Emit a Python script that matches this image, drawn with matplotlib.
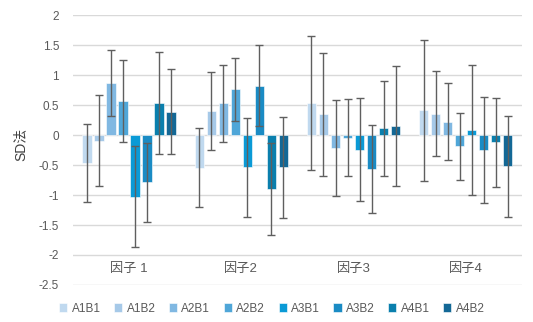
import matplotlib.pyplot as plt
import numpy as np

plt.rcParams['font.family'] = ['Liberation Sans', 'Noto Sans CJK SC', 'DejaVu Sans']

categories = ['因子 1', '因子2', '因子3', '因子4']
series = ['A1B1', 'A1B2', 'A2B1', 'A2B2', 'A3B1', 'A3B2', 'A4B1', 'A4B2']
colors = ['#c0d9ef', '#a6c9e8', '#80b8e2', '#4fa6d8',
          '#0a9ad6', '#1a8bc4', '#0a7fad', '#136896']

# mean values per series, one entry per factor
means = {
    'A1B1': [-0.465, -0.545, 0.53, 0.41],
    'A1B2': [-0.095, 0.40, 0.345, 0.355],
    'A2B1': [0.87, 0.53, -0.22, 0.22],
    'A2B2': [0.565, 0.765, -0.045, -0.19],
    'A3B1': [-1.03, -0.54, -0.245, 0.085],
    'A3B2': [-0.79, 0.825, -0.56, -0.25],
    'A4B1': [0.54, -0.90, 0.115, -0.12],
    'A4B2': [0.39, -0.54, 0.15, -0.52],
}
errors = {
    'A1B1': [0.655, 0.66, 1.12, 1.175],
    'A1B2': [0.755, 0.655, 1.025, 0.71],
    'A2B1': [0.555, 0.64, 0.80, 0.64],
    'A2B2': [0.68, 0.525, 0.645, 0.565],
    'A3B1': [0.84, 0.83, 0.855, 1.09],
    'A3B2': [0.655, 0.67, 0.735, 0.88],
    'A4B1': [0.85, 0.77, 0.79, 0.74],
    'A4B2': [0.705, 0.835, 1.0, 0.84],
}

fig = plt.figure(figsize=(5.33, 3.22), dpi=100)
ax = fig.add_axes([0.137, 0.115, 0.842, 0.838])

x = np.arange(len(categories))
step = 0.107
width = 0.085
for i, name in enumerate(series):
    offset = (i - (len(series) - 1) / 2) * step
    ax.bar(x + offset, means[name], width, color=colors[i], label=name,
           edgecolor='white', linewidth=0.4, zorder=2)
    ax.errorbar(x + offset, means[name], yerr=errors[name], fmt='none',
                ecolor='#5f5f5f', elinewidth=1, capsize=3, capthick=1, zorder=3)

ax.set_xlim(-0.5, len(categories) - 0.5)
ax.set_ylim(-2.5, 2)
ax.set_yticks(np.arange(-2.5, 2.01, 0.5))
ax.set_yticklabels(['-2.5', '-2', '-1.5', '-1', '-0.5', '0', '0.5', '1', '1.5', '2'])
ax.set_xticks(x)
ax.set_xticklabels(categories, fontsize=9.5, color='#595959')
ax.tick_params(axis='x', length=0, pad=-16)
ax.tick_params(axis='y', length=0, pad=10, labelsize=8.5, labelcolor='#595959')
ax.grid(axis='y', color='#d9d9d9', linewidth=1, zorder=0)
ax.set_axisbelow(True)
for s in ax.spines.values():
    s.set_visible(False)

ax.set_ylabel('SD法', fontsize=10, color='#404040')
ax.yaxis.set_label_coords(-0.102, 0.52)

fig.legend(loc='lower center', bbox_to_anchor=(0.51, -0.01), ncol=8,
           frameon=False, fontsize=8.5, handlelength=0.7, handleheight=0.7,
           handletextpad=0.35, columnspacing=1.15, labelcolor='#595959')

fig.savefig('out.png', dpi=100)
